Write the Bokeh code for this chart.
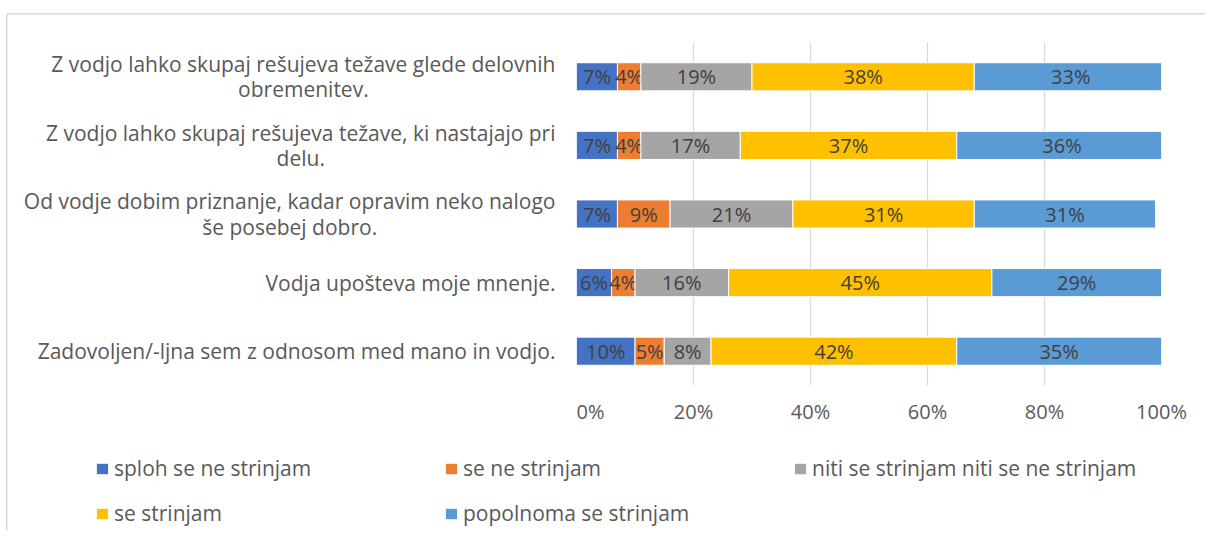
import numpy as np
from bokeh.plotting import figure
from bokeh.layouts import column, row
from bokeh.models import (ColumnDataSource, FactorRange, Legend, LegendItem,
                          FixedTicker, Range1d)
from bokeh.core.properties import value
from bokeh.embed import file_html
from bokeh.resources import INLINE

categories = [
    "Z vodjo lahko skupaj rešujeva težave glede delovnih\nobremenitev.",
    "Z vodjo lahko skupaj rešujeva težave, ki nastajajo pri\ndelu.",
    "Od vodje dobim priznanje, kadar opravim neko nalogo\nše posebej dobro.",
    "Vodja upošteva moje mnenje.",
    "Zadovoljen/-ljna sem z odnosom med mano in vodjo.",
]
series_names = [
    "sploh se ne strinjam",
    "se ne strinjam",
    "niti se strinjam niti se ne strinjam",
    "se strinjam",
    "popolnoma se strinjam",
]
sploh = [7, 7, 7, 6, 10]
se_ne = [4, 4, 9, 4, 5]
niti = [19, 17, 21, 16, 8]
se_str = [38, 37, 31, 45, 42]
popolnoma = [33, 36, 31, 29, 35]
series_values = [sploh, se_ne, niti, se_str, popolnoma]
colors = ["#4472C4", "#ED7D31", "#A5A5A5", "#FFC000", "#5B9BD5"]
x_ticks = [0, 20, 40, 60, 80, 100]
x_tick_labels = ["0%", "20%", "40%", "60%", "80%", "100%"]

FONT = "Open Sans"
TEXT = "#595959"
BORDER = "#D9D9D9"
FS = "20px"
FS_CAT = "21px"

TOP, FRAME_H, BOTTOM = 42, 343, 45
LEFT_W = 576
FRAME_W, RIGHT_W = 585, 44
TOTAL_W = LEFT_W + FRAME_W + RIGHT_W

y_range = FactorRange(factors=categories[::-1], range_padding=0)

# ---- category label panel (left) ----
lab = figure(
    y_range=y_range, x_range=Range1d(0, LEFT_W),
    frame_width=LEFT_W, frame_height=FRAME_H,
    min_border_left=0, min_border_right=0,
    min_border_top=TOP, min_border_bottom=BOTTOM,
    x_axis_location=None, y_axis_location=None,
    output_backend="svg", toolbar_location=None,
)
lab.outline_line_color = None
lab.grid.visible = False
lab.text(x=LEFT_W - 21, y=categories, text=categories,
         anchor="center_right", text_align="center", text_baseline="middle",
         text_line_height=0.9,
         text_font=value(FONT), text_font_size=FS_CAT, text_color=TEXT)

# ---- main bar chart ----
p = figure(
    y_range=y_range, x_range=Range1d(0, 100),
    frame_width=FRAME_W, frame_height=FRAME_H,
    min_border_left=0, min_border_right=RIGHT_W,
    min_border_top=TOP, min_border_bottom=BOTTOM,
    y_axis_location=None,
    output_backend="svg", toolbar_location=None,
)
p.outline_line_color = None

vals = np.array(series_values, dtype=float)
rights = np.cumsum(vals, axis=0)
lefts = rights - vals

for i, name in enumerate(series_names):
    src = ColumnDataSource(dict(
        cat=categories,
        left=lefts[i], right=rights[i],
        mid=(lefts[i] + rights[i]) / 2,
        lab=[f"{int(v)}%" for v in vals[i]],
    ))
    p.hbar(y="cat", left="left", right="right", height=0.41, source=src,
           fill_color=colors[i], line_color="white", line_width=1)
    p.text(x="mid", y="cat", text="lab", source=src, text_align="center",
           text_baseline="middle", text_font=value(FONT), text_font_size=FS,
           text_color="#404040")

p.xgrid.grid_line_color = BORDER
p.xgrid.grid_line_width = 1.3
p.ygrid.grid_line_color = None
p.xaxis.ticker = FixedTicker(ticks=x_ticks)
p.xaxis.major_label_overrides = {t: l for t, l in zip(x_ticks, x_tick_labels)}
p.xaxis.axis_line_color = None
p.xaxis.major_tick_line_color = None
p.xaxis.minor_tick_line_color = None
p.xaxis.major_label_text_font = FONT
p.xaxis.major_label_text_font_size = FS
p.xaxis.major_label_text_color = TEXT
p.xaxis.major_label_standoff = 6

# ---- legend panel ----
leg = figure(width=TOTAL_W, height=100,
             x_range=Range1d(0, TOTAL_W), y_range=Range1d(0, 1),
             min_border=0, x_axis_location=None, y_axis_location=None,
             output_backend="svg", toolbar_location=None)
leg.outline_line_color = None
leg.grid.visible = False
items = []
for name, c in zip(series_names, colors):
    # swatch-only renderer, placed far outside this panel's visible ranges
    r = leg.hbar(y=[-50], left=[-500], right=[-400], height=0.5,
                 fill_color=c, line_color=None)
    items.append(LegendItem(label=name, renderers=[r]))
legend = Legend(
    items=items, orientation="horizontal", ncols=3,
    location=(95, 3),
    glyph_width=14, glyph_height=13, label_standoff=5,
    label_width=313, label_height=27, spacing=17,
    padding=0, margin=0,
    label_text_font=FONT, label_text_font_size=FS_CAT, label_text_color=TEXT,
    background_fill_alpha=0, border_line_color=None,
)
leg.add_layout(legend, "center")

# transparent canvases so the chart-area border (drawn as background) shows
for f in (lab, p, leg):
    f.border_fill_color = None
    f.background_fill_color = None

layout = column(row(lab, p), leg)
layout.styles = {
    "background-image": f"linear-gradient({BORDER}, {BORDER}), linear-gradient({BORDER}, {BORDER})",
    "background-size": "1.5px calc(100% - 13px), calc(100% - 6px) 1.5px",
    "background-position": "6px 13px, 6px 13px",
    "background-repeat": "no-repeat",
}
open("out.html", "w").write(file_html(layout, INLINE))
